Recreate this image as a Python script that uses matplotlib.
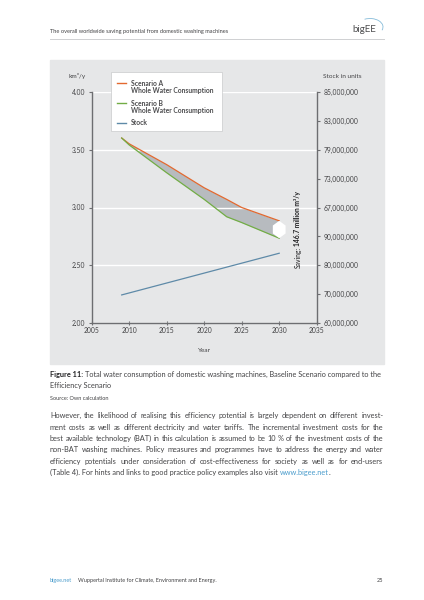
import numpy as np
import matplotlib
matplotlib.use('Agg')
import matplotlib.pyplot as plt
from matplotlib.patches import Rectangle, Arc
from matplotlib.lines import Line2D
from matplotlib.transforms import IdentityTransform

plt.rcParams['font.family'] = ['Lato', 'DejaVu Sans']

# Values (left axis in km3/y)
years = [2009, 2010, 2015, 2020, 2023, 2025, 2030]
scenario_a = [3.60, 3.55, 3.37, 3.17, 3.07, 3.00, 2.885]
scenario_b = [3.60, 3.54, 3.30, 3.07, 2.92, 2.87, 2.735]
stock_years = [2009, 2030]
stock = [2.245, 2.605]

x_ticks = [2005, 2010, 2015, 2020, 2025, 2030, 2035]
left_ticks = [2.00, 2.50, 3.00, 3.50, 4.00]
right_ticks = [2.00, 2.25, 2.50, 2.75, 3.00, 3.25, 3.50, 3.75, 4.00]
right_labels = ['60,000,000', '70,000,000', '80,000,000', '90,000,000', '67,000,000',
                '73,000,000', '79,000,000', '83,000,000', '85,000,000']
legend_labels = [['Scenario A', 'Whole Water Consumption'],
                 ['Scenario B', 'Whole Water Consumption'],
                 ['Stock']]
saving_label = ['Saving:', '146.7 million m³/y']

header = 'The overall worldwide saving potential from domestic washing machines'
caption = 'Total water consumption of domestic washing machines, Baseline Scenario compared to the'
caption2 = 'Efficiency Scenario'
source = 'Source: Own calculation'
paragraph = [
    'However, the likelihood of realising this efficiency potential is largely dependent on different invest-',
    'ment costs as well as different electricity and water tariffs. The incremental investment costs for the',
    'best available technology (BAT) in this calculation is assumed to be 10 % of the investment costs of the',
    'non-BAT washing machines. Policy measures and programmes have to address the energy and water',
    'efficiency potentials under consideration of cost-effectiveness for society as well as for end-users',
]
last_line = '(Table 4). For hints and links to good practice policy examples also visit'
link = 'www.bigee.net'
footer = 'Wuppertal Institute for Climate, Environment and Energy.'

ORANGE = '#e3692f'
GREEN = '#72ad45'
BLUE = '#5e8aa8'
FILL = '#b7bbbf'
PANEL = '#e6e7e8'
AXIS = '#6d6e71'
TXT = '#434345'
DARK = '#222224'
LINK = '#4a9ccc'

W, H = 424, 600
fig = plt.figure(figsize=(W / 100, H / 100), dpi=100)
renderer = fig.canvas.get_renderer()


def fx(x):
    return x / W


def fy(y):
    return 1 - y / H


def width_of(t):
    return t.get_window_extent(renderer).width


def measure(s, size, weight='normal'):
    t = fig.text(0, 0, s, fontsize=size, fontweight=weight)
    w = width_of(t)
    t.remove()
    return w


def fit(s, target, weight='normal'):
    # font size that makes the string about target pixels wide (measured at that size)
    size = 10.0
    for _ in range(3):
        size = size * target / measure(s, size, weight)
    return size


def space_width(size, weight='normal'):
    return measure('a a', size, weight) - measure('aa', size, weight)


def runs(parts, x, y, size):
    # draw pieces of text one after another on one line
    for s, color, weight in parts:
        t = fig.text(fx(x), fy(y), s.strip(), fontsize=size, color=color,
                     fontweight=weight, va='center')
        x += width_of(t)
        if s.endswith(' '):
            x += space_width(size, weight)
    return x


def justify(line, x0, x1, y, size, color):
    words = line.split(' ')
    texts = [fig.text(0, fy(y), w, fontsize=size, color=color, va='center') for w in words]
    widths = [width_of(t) for t in texts]
    gap = (x1 - x0 - sum(widths)) / (len(words) - 1)
    x = x0
    for t, w in zip(texts, widths):
        t.set_x(fx(x))
        x += w + gap


def min_gap(lines, size, span):
    gaps = []
    for line in lines:
        words = line.split(' ')
        total = sum(measure(w, size) for w in words)
        gaps.append((span - total) / (len(words) - 1))
    return min(gaps)


def words_size(lines, span, want_gap):
    # bisection on the size so the tightest line keeps want_gap pixels between words
    lo, hi = 3.0, 8.0
    for _ in range(10):
        mid = (lo + hi) / 2
        if min_gap(lines, mid, span) >= want_gap:
            lo = mid
        else:
            hi = mid
    return lo


small = fit(header, 178)
tick_fs = fit('60,000,000', 35)
title_fs = fit('Stock in units', 38)
legend_fs = fit('Whole Water Consumption', 82, 'bold')
cap_fs = fit(caption, 296)
body_fs = words_size(paragraph, 333.3, 1.8)

# page header
fig.text(fx(50), fy(31), header, fontsize=small, color=TXT, va='center')
fig.add_artist(Line2D([fx(50), fx(384)], [fy(39), fy(39)], color='#cfd0d2', lw=0.7))
fig.text(fx(352.5), fy(29), 'bigEE', fontsize=fit('bigEE', 24), color='#4d4d4f', va='center')
fig.add_artist(Arc((370, H - 27), 26, 17, theta1=-15, theta2=125, color='#86bcd9',
                   lw=0.6, transform=IdentityTransform()))

# grey panel behind the chart
fig.add_artist(Rectangle((fx(50), fy(363.5)), 333.5 / W, 303.5 / H,
                         transform=fig.transFigure, color=PANEL, zorder=0))

ax = fig.add_axes([fx(91.7), fy(323.3), 225 / W, 231.6 / H])
ax.set_facecolor('none')
ax.set_xlim(2005, 2035)
ax.set_ylim(2, 4)

ax.fill_between(years, scenario_a, scenario_b, color=FILL, lw=0, zorder=1)
ax.plot(years, scenario_a, color=ORANGE, lw=0.9, zorder=3)
ax.plot(years, scenario_b, color=GREEN, lw=0.9, zorder=3)
ax.plot(stock_years, stock, color=BLUE, lw=0.9, zorder=3)

ax.set_xticks(x_ticks)
ax.set_yticks(left_ticks)
ax.set_yticklabels([f'{v:.2f}' for v in left_ticks])
ax.yaxis.grid(True, color='white', lw=1.0)
for s in ['top', 'right']:
    ax.spines[s].set_visible(False)
for s in ['left', 'bottom']:
    ax.spines[s].set_color(AXIS)
    ax.spines[s].set_linewidth(1.0)
ax.tick_params(axis='x', direction='inout', length=3, width=0.8, color=AXIS,
               labelsize=tick_fs, labelcolor=TXT, pad=1.5)
ax.tick_params(axis='y', direction='out', length=2.5, width=0.8, color=AXIS,
               labelsize=tick_fs, labelcolor=TXT, pad=2.2)

ax2 = ax.twinx()
ax2.set_ylim(2, 4)
ax2.set_yticks(right_ticks)
ax2.set_yticklabels(right_labels)
for s in ['top', 'left', 'bottom']:
    ax2.spines[s].set_visible(False)
ax2.spines['right'].set_color(AXIS)
ax2.spines['right'].set_linewidth(1.0)
ax2.tick_params(axis='y', direction='out', length=2.5, width=0.8, color=AXIS,
                labelsize=tick_fs, labelcolor=TXT, pad=2.2)

# white double arrow between the two scenario ends (hexagon shape)
xa, ya, yb = years[-1], scenario_a[-1], scenario_b[-1]
half = 0.85
shoulder = 0.27 * (ya - yb)
ax.fill([xa, xa + half, xa + half, xa, xa - half, xa - half],
        [yb, yb + shoulder, ya - shoulder, ya, ya - shoulder, yb + shoulder],
        color='white', lw=0, zorder=4)

# rotated saving label, first word regular, value bold
sav_fs = fit(saving_label[0] + ' ' + saving_label[1], 78, 'bold')
mid = (ya + yb) / 2
tx = xa + 2.5
t1 = ax.annotate(saving_label[0], xy=(tx, mid), xytext=(0, 0), textcoords='offset pixels',
                 rotation=90, ha='center', va='top', fontsize=sav_fs, color=DARK)
t2 = ax.annotate(saving_label[1], xy=(tx, mid), xytext=(0, 0), textcoords='offset pixels',
                 rotation=90, ha='center', va='bottom', fontsize=sav_fs, color=DARK,
                 fontweight='bold')
h1 = t1.get_window_extent(renderer).height
h2 = t2.get_window_extent(renderer).height
gap = space_width(sav_fs)
split = -(h2 - h1 + gap) / 2
t1.xyann = (0, split)
t2.xyann = (0, split + gap)

# legend box
fig.add_artist(Rectangle((fx(110.7), fy(130.7)), 111.6 / W, 58.4 / H,
                         transform=fig.transFigure, facecolor='white',
                         edgecolor='#c9cacc', lw=0.5, zorder=5))
for color, lines, y in zip([ORANGE, GREEN, BLUE], legend_labels, [83, 103, 122.7]):
    fig.add_artist(Line2D([fx(116.7), fx(126)], [fy(y), fy(y)], color=color, lw=1.0, zorder=6))
    for i, s in enumerate(lines):
        fig.text(fx(131), fy(y + 7.7 * i), s, fontsize=legend_fs, fontweight='bold',
                 color='#4d4d4f', va='center', zorder=6)

# axis titles
fig.text(fx(76.7), fy(76), 'km³/y', fontsize=title_fs, color=TXT, ha='center', va='center')
fig.text(fx(342.7), fy(76), 'Stock in units', fontsize=title_fs, color=TXT, ha='center', va='center')
fig.text(fx(204), fy(350), 'Year', fontsize=title_fs, color=TXT, ha='center', va='center')

# caption and body text
runs([('Figure 11: ', DARK, 'bold'), (caption, TXT, 'normal')], 50, 374.3, cap_fs)
fig.text(fx(50), fy(385.7), caption2, fontsize=cap_fs, color=TXT, va='center')
fig.text(fx(50), fy(398.7), source, fontsize=fit(source, 59), color=TXT, va='center')

for i, line in enumerate(paragraph):
    justify(line, 50, 383.3, 415.7 + 11.4 * i, body_fs, TXT)
runs([(last_line + ' ', TXT, 'normal'), (link, LINK, 'normal'), ('.', TXT, 'normal')],
     50, 415.7 + 11.4 * 5, body_fs)

# footer
foot_fs = fit(footer, 138)
runs([('bigee.net', LINK, 'normal')], 50, 580.7, foot_fs)
fig.text(fx(78.3), fy(580.7), footer, fontsize=foot_fs, color=TXT, va='center')
fig.text(fx(383.3), fy(580.3), '25', fontsize=foot_fs, color=TXT, ha='right', va='center')

fig.savefig('out.png', dpi=100)
